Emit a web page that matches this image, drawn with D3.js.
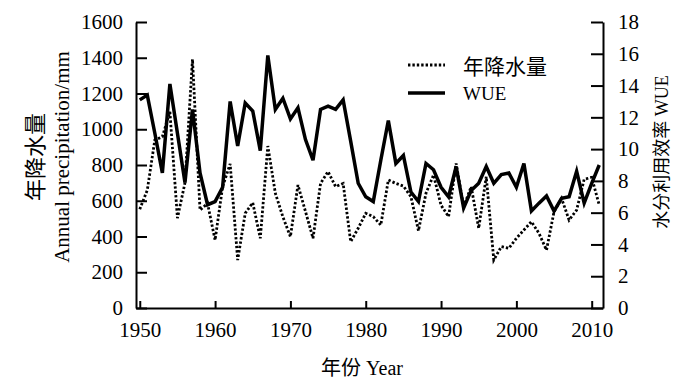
<html>
<head>
<meta charset="utf-8">
<style>
  body { margin: 0; background: #fff; }
  text { fill: #000; }
</style>
</head>
<body>
<script src="https://cdn.jsdelivr.net/npm/d3@7"></script>
<script>
 // data
 var years = [1950,1951,1952,1953,1954,1955,1956,1957,1958,1959,
              1960,1961,1962,1963,1964,1965,1966,1967,1968,1969,
              1970,1971,1972,1973,1974,1975,1976,1977,1978,1979,
              1980,1981,1982,1983,1984,1985,1986,1987,1988,1989,
              1990,1991,1992,1993,1994,1995,1996,1997,1998,1999,
              2000,2001,2002,2003,2004,2005,2006,2007,2008,2009,
              2010,2011];
 var precip = [552,660,940,958,1098,503,700,1391,548,585,
               380,679,806,268,530,589,390,906,642,510,
               399,688,540,390,697,763,679,697,371,446,
               530,511,464,716,697,682,623,432,642,744,
               575,511,809,567,679,446,735,269,343,334,
               390,436,483,418,324,539,613,492,548,720,
               731,576];
 var wue = [13.1,13.4,11.0,8.5,14.1,11.0,7.9,12.5,8.5,6.5,
            6.7,7.6,13.0,10.2,12.9,12.4,9.9,15.9,12.5,13.2,
            11.9,12.6,10.6,9.3,12.5,12.7,12.5,13.1,10.5,7.85,
            7.0,6.7,9.3,11.8,9.1,9.6,7.3,6.7,9.1,8.7,
            7.6,7.0,8.9,6.3,7.4,7.85,8.9,7.85,8.4,8.5,
            7.6,9.1,6.1,6.6,7.05,6.1,6.9,7.0,8.6,6.6,
            7.85,9.0];
 var xTicks = [1950,1960,1970,1980,1990,2000,2010];
 var leftTicks = [0,200,400,600,800,1000,1200,1400,1600];
 var rightTicks = [0,2,4,6,8,10,12,14,16,18];

 var serif = "'Liberation Serif', 'Times New Roman', 'Noto Sans CJK SC', serif";
 var plotL = 136, plotR = 603, plotT = 22, plotB = 308;
 var dots = "2.4,2";

 var svg = d3.select("body").append("svg")
             .attr("width", 700).attr("height", 386)
             .style("font-family", serif);

 var x = d3.scaleLinear().domain([1949.5, 2011.5]).range([plotL, plotR]);
 var yL = d3.scaleLinear().domain([0, 1600]).range([plotB, plotT]);
 var yR = d3.scaleLinear().domain([0, 18]).range([plotB, plotT]);

 function styleAxis(g) {
     g.selectAll("path, line").attr("stroke", "#000").attr("stroke-width", 2);
     g.selectAll("text").style("font-family", serif).style("font-size", "21px").attr("fill", "#000");
 }

 svg.append("g").attr("transform", "translate(" + plotL + ",0)")
    .call(d3.axisLeft(yL).tickValues(leftTicks).tickFormat(d3.format("d"))
            .tickSize(-11).tickSizeOuter(0).tickPadding(13))
    .call(styleAxis);
 svg.append("g").attr("transform", "translate(" + plotR + ",0)")
    .call(d3.axisRight(yR).tickValues(rightTicks).tickFormat(d3.format("d"))
            .tickSize(-12).tickSizeOuter(0).tickPadding(15))
    .call(styleAxis);
 svg.append("g").attr("transform", "translate(0," + plotB + ")")
    .call(d3.axisBottom(x).tickValues(xTicks).tickFormat(d3.format("d"))
            .tickSize(-7).tickSizeOuter(0).tickPadding(14))
    .call(styleAxis);

 var precipLine = d3.line()
     .x(function(d, i){ return x(years[i]); })
     .y(function(d){ return yL(d); });
 var wueLine = d3.line()
     .x(function(d, i){ return x(years[i]); })
     .y(function(d){ return yR(d); });

 svg.append("path").datum(precip)
    .attr("d", precipLine)
    .attr("fill", "none").attr("stroke", "#000")
    .attr("stroke-width", 2.8).attr("stroke-dasharray", dots);
 svg.append("path").datum(wue)
    .attr("d", wueLine)
    .attr("fill", "none").attr("stroke", "#000")
    .attr("stroke-width", 3.5).attr("stroke-linejoin", "miter");

 // legend
 svg.append("line").attr("x1", 408).attr("x2", 445).attr("y1", 65).attr("y2", 65)
    .attr("stroke", "#000").attr("stroke-width", 2.8).attr("stroke-dasharray", dots);
 svg.append("text").attr("x", 463).attr("y", 74)
    .style("font-size", "21px").text("年降水量");
 svg.append("line").attr("x1", 408).attr("x2", 445).attr("y1", 93).attr("y2", 93)
    .attr("stroke", "#000").attr("stroke-width", 3.5);
 svg.append("text").attr("x", 463).attr("y", 100)
    .style("font-size", "19px").text("WUE");

 // axis titles
 svg.append("text").attr("transform", "translate(35,157) rotate(-90)")
    .attr("text-anchor", "middle").attr("dominant-baseline", "central")
    .style("font-size", "22px").text("年降水量");
 svg.append("text").attr("transform", "translate(62,157) rotate(-90)")
    .attr("text-anchor", "middle").attr("dominant-baseline", "central")
    .style("font-size", "21px").text("Annual precipitation/mm");
 svg.append("text").attr("transform", "translate(662,152) rotate(-90)")
    .attr("text-anchor", "middle").attr("dominant-baseline", "central")
    .style("font-size", "18px").text("水分利用效率 WUE");
 svg.append("text").attr("x", 362).attr("y", 375)
    .attr("text-anchor", "middle")
    .style("font-size", "20px").text("年份 Year");
</script>
</body>
</html>
